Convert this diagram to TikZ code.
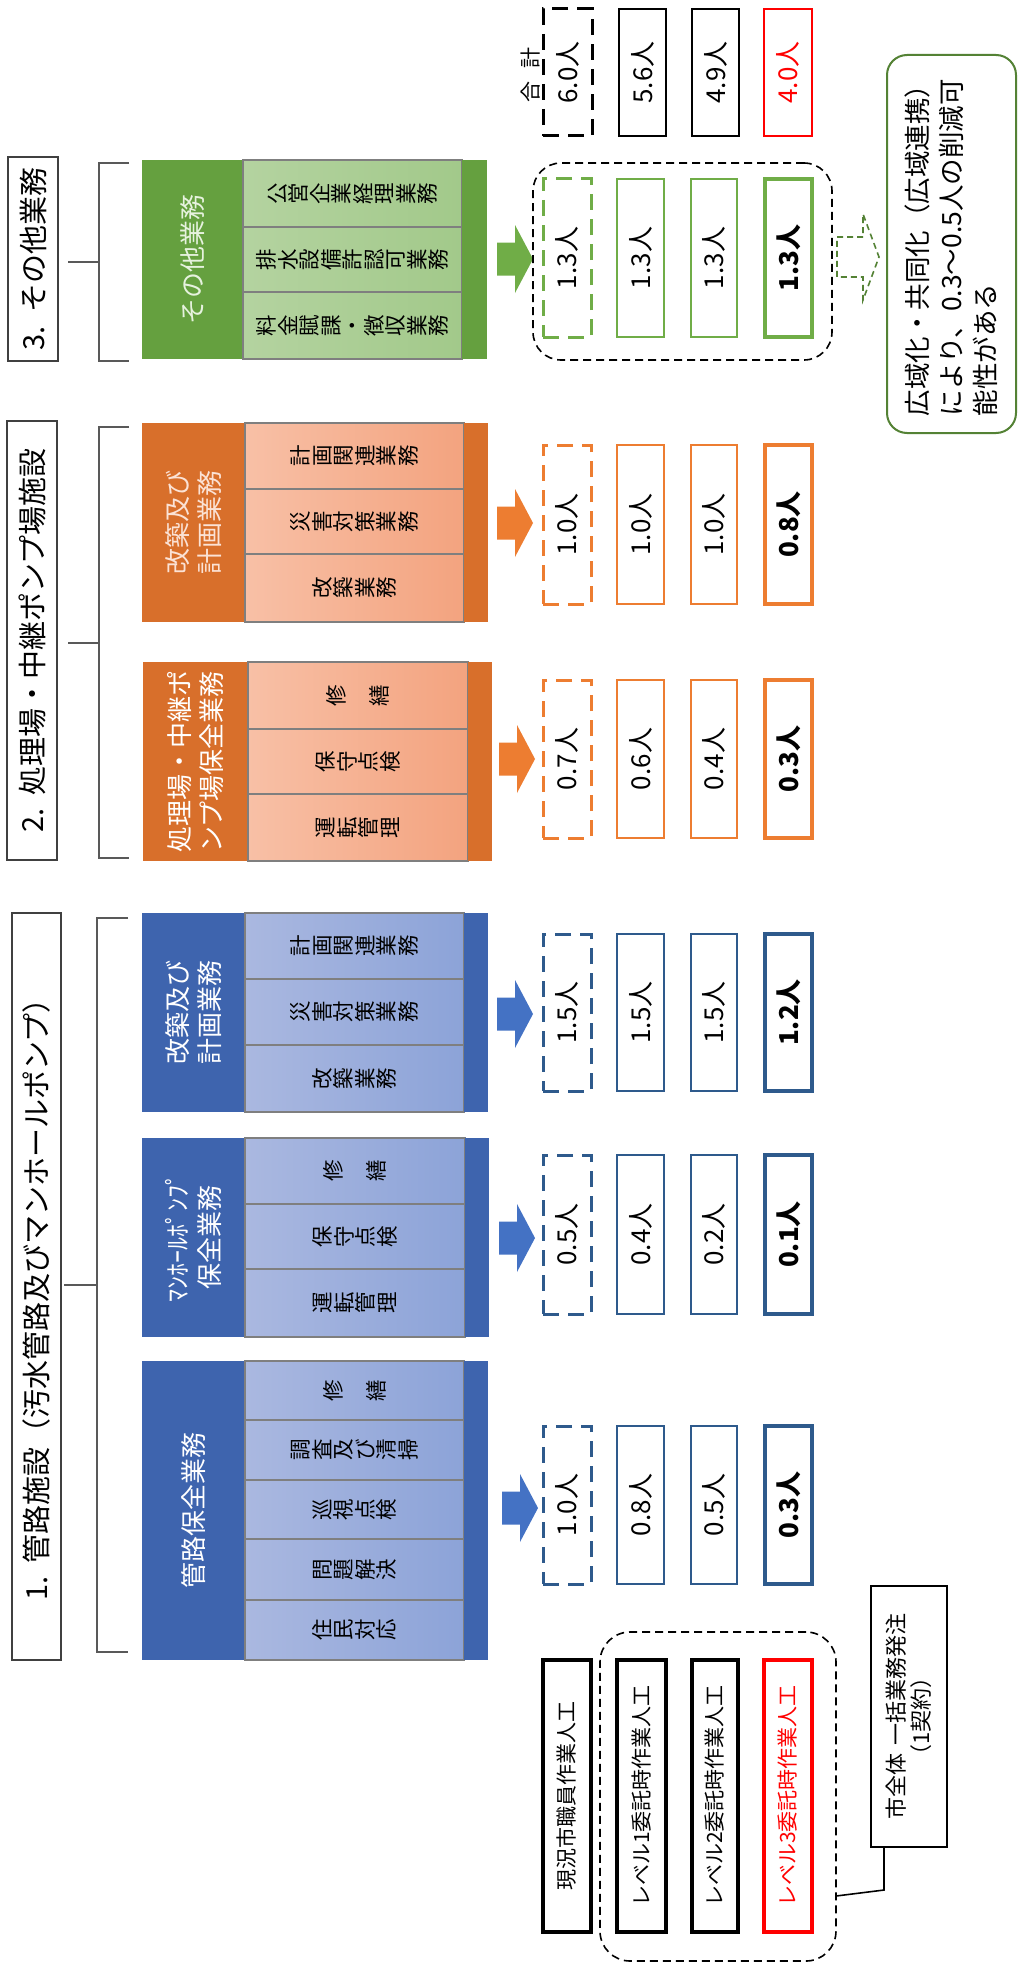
\documentclass[tikz,border=0pt]{standalone}
\usepackage{fontspec}
\setmainfont{Noto Sans CJK JP}
\usepackage{graphicx}
\usetikzlibrary{fit,calc}
\definecolor{bH}{HTML}{3E64AE}
\definecolor{bL1}{HTML}{AAB8E0}
\definecolor{bL2}{HTML}{8CA3D8}
\definecolor{oH}{HTML}{D86F2B}
\definecolor{oL1}{HTML}{F8C0A6}
\definecolor{oL2}{HTML}{F3A37F}
\definecolor{gH}{HTML}{65A03F}
\definecolor{gL1}{HTML}{B4D3A0}
\definecolor{gL2}{HTML}{A2C98A}
\definecolor{bA}{HTML}{4472C4}
\definecolor{oA}{HTML}{ED7D31}
\definecolor{gA}{HTML}{70AD47}
\definecolor{bV}{HTML}{2E5A8C}
\definecolor{oV}{HTML}{ED7D31}
\definecolor{gV}{HTML}{70AD47}
\definecolor{gD}{HTML}{548235}
\definecolor{redV}{HTML}{FF0000}
\definecolor{oT}{HTML}{FBE2D5}
\definecolor{gT}{HTML}{E6F2DE}
\definecolor{ttlgray}{HTML}{404040}
\definecolor{brkgray}{HTML}{595959}
\definecolor{cellgray}{HTML}{7F7F7F}
\newcommand\vjchar[1]{\rotatebox[origin=c]{90}{\makebox[1em]{\rule[-0.12em]{0pt}{1em}#1}}}
\ExplSyntaxOn
\NewDocumentCommand \vtext { m } { \tl_map_inline:nn { #1 } { \vjchar { ##1 } } }
\ExplSyntaxOff
\newcommand\ttlfont{\fontsize{29}{34}\selectfont}
\newcommand\hdrfont{\fontsize{26}{32}\selectfont}
\newcommand\subfont{\fontsize{21.5}{26}\selectfont}
\newcommand\valfont{\fontsize{26}{30}\selectfont}
\newcommand\legfont{\fontsize{21}{26}\selectfont}
\newcommand\notefont{\fontsize{26.5}{34}\selectfont}
\tikzset{
 every node/.style={inner sep=0pt, outer sep=0pt},
 rt/.style={rotate=90},
 ttl/.style={draw=ttlgray, line width=1.7pt},
 brk/.style={draw=brkgray, line width=1.6pt},
 hdr/.style={fill=#1},
 strip/.style={fill=#1},
 subc/.style 2 args={draw=cellgray, line width=1.2pt, left color=#1, right color=#2, font=\subfont},
 lvA/.style={draw=#1, line width=3pt, dash pattern=on 16pt off 9pt},
 lvB/.style={draw=#1, line width=2pt},
 lvC/.style={draw=#1, line width=2.6pt},
 lvD/.style={draw=#1, line width=3.4pt},
 grp/.style={draw=black, line width=1.6pt, dash pattern=on 8pt off 5pt, rounded corners=28pt},
 legbox/.style={draw=#1, line width=3.2pt},
 barrow/.pic={\fill[#1] (0,-16.5) -- (18,-16.5) -- (18,-34) -- (36,0) -- (18,34) -- (18,16.5) -- (0,16.5) -- cycle;},
}
\newcommand\valrow[8]{%
 \node[lvA=#4, fit={(543,#2)(591,#3)}] (#1a) {};
 \node[rt, font=\valfont] (#1at) at (#1a) {#5};
 \node[lvB=#4, fit={(617,#2)(664,#3)}] (#1b) {};
 \node[rt, font=\valfont] (#1bt) at (#1b) {#6};
 \node[lvC=#4, fit={(691,#2)(737,#3)}] (#1c) {};
 \node[rt, font=\valfont] (#1ct) at (#1c) {#7};
 \node[lvD=#4, fit={(765,#2)(812,#3)}] (#1d) {};
 \node[rt, font=\valfont\bfseries] (#1dt) at (#1d) {#8};
}
\begin{document}
\begin{tikzpicture}[x=1pt,y=-1pt]
\fill[white] (0,0) rectangle (1018,1964);
\useasboundingbox (0,0) rectangle (1018,1964);

% titles
\node[ttl, fit={(8,157)(58,361)}] (t3) {};
\node[rt, font=\ttlfont] (t3t) at (t3) {3.\hspace{0.45em}その他業務};
\node[ttl, fit={(7,421)(57,860)}] (t2) {};
\node[rt, font=\ttlfont] (t2t) at (t2) {2.\hspace{0.45em}処理場・中継ポンプ場施設};
\node[ttl, fit={(12,913)(61,1660)}] (t1) {};
\node[rt, font=\ttlfont] (t1t) at ([yshift=-6pt]t1.center) {1.\hspace{0.45em}管路施設（汚水管路及びマンホールポンプ）};

% brackets
\coordinate (k3) at (99,262);
\coordinate (k2) at (99,643);
\coordinate (k1) at (97,1285);
\draw[brk] (129,163) -- (99,163) -- (99,361) -- (129,361);
\draw[brk] ([xshift=10pt]t3.east |- k3) -- (k3);
\draw[brk] (129,427) -- (99,427) -- (99,858) -- (129,858);
\draw[brk] ([xshift=11pt]t2.east |- k2) -- (k2);
\draw[brk] (128,918) -- (97,918) -- (97,1652) -- (128,1652);
\draw[brk] ([xshift=3pt]t1.east |- k1) -- (k1);

% green block
\node[hdr=gH, fit={(142,160)(243,359)}] (hG) {};
\node[rt, font=\hdrfont, text=gT] (hGt) at (hG) {その他業務};
\node[subc={gL1}{gL2}, fit={(243,160)(462,227)}] (sG1) {};
\node (sG1t) at (sG1) {\subfont\vtext{公営企業経理業務}};
\node[subc={gL1}{gL2}, fit={(243,227)(462,292)}] (sG2) {};
\node (sG2t) at (sG2) {\subfont\vtext{排水設備許認可業務}};
\node[subc={gL1}{gL2}, fit={(243,292)(462,359)}] (sG3) {};
\node (sG3t) at (sG3) {\subfont\vtext{料金賦課・徴収業務}};
\node[strip=gH, fit={(462,160)(487,359)}] (pG) {};
\pic at (497,259) {barrow=gA};

% orange renewal block
\node[hdr=oH, fit={(142,423)(245,622)}] (hOR) {};
\node[rt, font=\hdrfont, text=oT, align=left] (hORt) at (hOR) {改築及び\\計画業務};
\node[subc={oL1}{oL2}, fit={(245,423)(464,489)}] (sOR1) {};
\node (sOR1t) at (sOR1) {\subfont\vtext{計画関連業務}};
\node[subc={oL1}{oL2}, fit={(245,489)(464,554)}] (sOR2) {};
\node (sOR2t) at (sOR2) {\subfont\vtext{災害対策業務}};
\node[subc={oL1}{oL2}, fit={(245,554)(464,622)}] (sOR3) {};
\node (sOR3t) at (sOR3) {\subfont\vtext{改築業務}};
\node[strip=oH, fit={(464,423)(488,622)}] (pOR) {};
\pic at (497,523) {barrow=oA};

% orange plant block
\node[hdr=oH, fit={(143,662)(248,861)}] (hOS) {};
\node[rt, font=\hdrfont, text=white, align=left] (hOSt) at (hOS) {処理場・中継ポ\\ンプ場保全業務};
\node[subc={oL1}{oL2}, fit={(248,662)(468,729)}] (sOS1) {};
\node (sOS1t) at (sOS1) {\subfont\vtext{修　繕}};
\node[subc={oL1}{oL2}, fit={(248,729)(468,794)}] (sOS2) {};
\node (sOS2t) at (sOS2) {\subfont\vtext{保守点検}};
\node[subc={oL1}{oL2}, fit={(248,794)(468,861)}] (sOS3) {};
\node (sOS3t) at (sOS3) {\subfont\vtext{運転管理}};
\node[strip=oH, fit={(468,662)(492,861)}] (pOS) {};
\pic at (499,759) {barrow=oA};

% blue renewal block
\node[hdr=bH, fit={(142,913)(245,1112)}] (hBR) {};
\node[rt, font=\hdrfont, text=white, align=left] (hBRt) at (hBR) {改築及び\\計画業務};
\node[subc={bL1}{bL2}, fit={(245,913)(464,979)}] (sBR1) {};
\node (sBR1t) at (sBR1) {\subfont\vtext{計画関連業務}};
\node[subc={bL1}{bL2}, fit={(245,979)(464,1045)}] (sBR2) {};
\node (sBR2t) at (sBR2) {\subfont\vtext{災害対策業務}};
\node[subc={bL1}{bL2}, fit={(245,1045)(464,1112)}] (sBR3) {};
\node (sBR3t) at (sBR3) {\subfont\vtext{改築業務}};
\node[strip=bH, fit={(464,913)(488,1112)}] (pBR) {};
\pic at (497,1014) {barrow=bA};

% blue manhole pump block
\node[hdr=bH, fit={(142,1138)(245,1337)}] (hBM) {};
\node[rt, font=\hdrfont, text=white, align=center] (hBMt) at (hBM) {ﾏﾝﾎｰﾙﾎﾟﾝﾌﾟ\\保全業務};
\node[subc={bL1}{bL2}, fit={(245,1138)(465,1204)}] (sBM1) {};
\node (sBM1t) at (sBM1) {\subfont\vtext{修　繕}};
\node[subc={bL1}{bL2}, fit={(245,1204)(465,1269)}] (sBM2) {};
\node (sBM2t) at (sBM2) {\subfont\vtext{保守点検}};
\node[subc={bL1}{bL2}, fit={(245,1269)(465,1337)}] (sBM3) {};
\node (sBM3t) at (sBM3) {\subfont\vtext{運転管理}};
\node[strip=bH, fit={(465,1138)(489,1337)}] (pBM) {};
\pic at (499,1238) {barrow=bA};

% blue pipe block
\node[hdr=bH, fit={(142,1361)(245,1660)}] (hBK) {};
\node[rt, font=\hdrfont, text=white] (hBKt) at (hBK) {管路保全業務};
\node[subc={bL1}{bL2}, fit={(245,1361)(464,1420)}] (sBK1) {};
\node (sBK1t) at (sBK1) {\subfont\vtext{修　繕}};
\node[subc={bL1}{bL2}, fit={(245,1420)(464,1480)}] (sBK2) {};
\node (sBK2t) at (sBK2) {\subfont\vtext{調査及び清掃}};
\node[subc={bL1}{bL2}, fit={(245,1480)(464,1539)}] (sBK3) {};
\node (sBK3t) at (sBK3) {\subfont\vtext{巡視点検}};
\node[subc={bL1}{bL2}, fit={(245,1539)(464,1600)}] (sBK4) {};
\node (sBK4t) at (sBK4) {\subfont\vtext{問題解決}};
\node[subc={bL1}{bL2}, fit={(245,1600)(464,1660)}] (sBK5) {};
\node (sBK5t) at (sBK5) {\subfont\vtext{住民対応}};
\node[strip=bH, fit={(464,1361)(488,1660)}] (pBK) {};
\pic at (502,1508) {barrow=bA};

% groups
\node[grp, fit={(533,163)(832,360)}] (ggrp) {};
\node[grp, rounded corners=30pt, fit={(600,1632)(836,1961)}] (lgrp) {};

% totals
\node[rt, font=\fontsize{21}{24}\selectfont] (gokei) at (531,75) {合\hspace{0.6em}計};
\node[lvA=black, fit={(543,9)(592,136)}] (ta) {};
\node[rt, font=\valfont] (tat) at (ta) {6.0人};
\node[lvB=black, fit={(619,9)(666,136)}] (tb) {};
\node[rt, font=\valfont] (tbt) at (tb) {5.6人};
\node[lvB=black, fit={(692,9)(739,136)}] (tc) {};
\node[rt, font=\valfont] (tct) at (tc) {4.9人};
\node[lvC=redV, fit={(764,9)(812,136)}] (td) {};
\node[rt, font=\valfont, text=redV] (tdt) at (td) {4.0人};

% values
\valrow{vG}{179}{337}{gV}{1.3人}{1.3人}{1.3人}{1.3人}
\valrow{vOR}{445}{604}{oV}{1.0人}{1.0人}{1.0人}{0.8人}
\valrow{vOS}{680}{838}{oV}{0.7人}{0.6人}{0.4人}{0.3人}
\valrow{vBR}{934}{1091}{bV}{1.5人}{1.5人}{1.5人}{1.2人}
\valrow{vBM}{1155}{1314}{bV}{0.5人}{0.4人}{0.2人}{0.1人}
\valrow{vBK}{1426}{1584}{bV}{1.0人}{0.8人}{0.5人}{0.3人}

% hollow dashed arrow and note
\draw[draw=gD, line width=1.6pt, dash pattern=on 6pt off 4pt] (837,237) -- (863,237) -- (863,214) -- (879,257) -- (863,300) -- (863,277) -- (837,277) -- cycle;
\node[draw=gD, line width=2pt, rounded corners=20pt, fit={(887,55)(1016,433)}] (note) {};
\node[rt, font=\notefont, align=left] (notet) at (note) {広域化・共同化（広域連携）\\により、0.3～0.5人の削減可\\能性がある};

% legend
\node[legbox=black, fit={(543,1660)(591,1932)}] (la) {};
\node[rt, font=\legfont] (lat) at (la) {現況市職員作業人工};
\node[legbox=black, fit={(617,1660)(666,1932)}] (lb) {};
\node[rt, font=\legfont] (lbt) at (lb) {レベル1委託時作業人工};
\node[legbox=black, fit={(692,1660)(738,1932)}] (lc) {};
\node[rt, font=\legfont] (lct) at (lc) {レベル2委託時作業人工};
\node[legbox=redV, fit={(764,1660)(812,1932)}] (ld) {};
\node[rt, font=\legfont, text=redV] (ldt) at (ld) {レベル3委託時作業人工};
\node[draw, line width=1.6pt, fit={(871,1586)(947,1847)}] (sbox) {};
\node[rt, font=\fontsize{22}{25}\selectfont, align=center] (sboxt) at (sbox) {市全体\hspace{0.4em}一括業務発注\\（1契約）};
\coordinate (lk) at (0,1896);
\coordinate (sk) at (884,1890);
\draw[line width=1.6pt] (sbox.south -| sk) -- (sk) -- (lgrp.east |- lk);
\end{tikzpicture}
\end{document}
